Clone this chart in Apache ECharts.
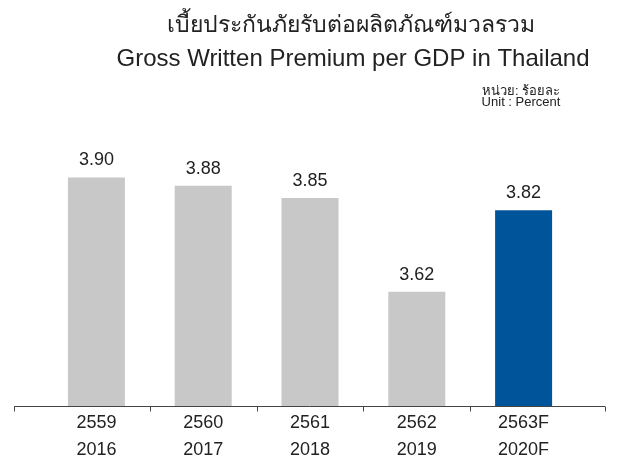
<!DOCTYPE html>
<html lang="th">
<head>
    <meta charset="UTF-8">
    <script src="https://cdn.jsdelivr.net/npm/echarts@6.0.0/dist/echarts.min.js"></script>
    <title>Gross Written Premium per GDP in Thailand</title>
    <style>
        html, body { margin: 0; padding: 0; background: #fff; }
    </style>
</head>
<body>
    <div id="chart" style="width: 619px;height:460px;"></div>
    <script>
        // data
        var thaiYears = ['2559', '2560', '2561', '2562', '2563F'];
        var years = ['2016', '2017', '2018', '2019', '2020F'];
        var premiumPerGdp = [3.90, 3.88, 3.85, 3.62, 3.82];

        var categories = [];
        for (var i = 0; i < years.length; i++) {
            categories.push(thaiYears[i] + '\n' + years[i]);
        }

        var font = '"Liberation Sans", Arial, "Noto Sans", sans-serif';
        var axisY = 406.5;

        var chart = echarts.init(document.getElementById('chart'));

        var option = {
            animation: false,
            grid: {
                left: 43,
                right: 42,
                top: 100,
                bottom: 54,
                outerBoundsMode: 'none'
            },
            xAxis: {
                type: 'category',
                data: categories,
                axisLine: { show: false },
                axisTick: { show: false },
                axisLabel: {
                    margin: 4,
                    fontSize: 18,
                    lineHeight: 27,
                    color: '#222',
                    fontFamily: font
                }
            },
            yAxis: {
                type: 'value',
                min: 3.34,
                max: 4.09,
                show: false,
                splitLine: { show: false }
            },
            series: [
                {
                    type: 'bar',
                    data: premiumPerGdp,
                    barWidth: 57,
                    itemStyle: {
                        color: function (p) {
                            // 预测年份用蓝色
                            return /F$/.test(years[p.dataIndex]) ? '#005499' : '#c8c8c8';
                        }
                    },
                    label: {
                        show: true,
                        position: 'top',
                        distance: 8,
                        fontSize: 18,
                        color: '#222',
                        fontFamily: font,
                        formatter: function (p) {
                            return p.value.toFixed(2);
                        }
                    }
                }
            ]
        };

        chart.setOption(option);

        // axis line with ticks between the categories, drawn wider than the grid
        var centers = [];
        for (var i = 0; i < categories.length; i++) {
            centers.push(chart.convertToPixel({ xAxisIndex: 0 }, i));
        }
        var tickXs = [14];
        for (var i = 0; i < centers.length - 1; i++) {
            tickXs.push((centers[i] + centers[i + 1]) / 2);
        }
        tickXs.push(605);

        var graphics = [
            {
                type: 'line',
                shape: { x1: 14, y1: axisY, x2: 605, y2: axisY },
                style: { stroke: '#444', lineWidth: 1 }
            }
        ];
        for (var i = 0; i < tickXs.length; i++) {
            var x = Math.round(tickXs[i]) + 0.5;
            graphics.push({
                type: 'line',
                shape: { x1: x, y1: axisY, x2: x, y2: axisY + 5 },
                style: { stroke: '#444', lineWidth: 1 }
            });
        }

        // titles
        graphics.push({
            type: 'text', x: 351, y: 26,
            style: {
                text: 'เบี้ยประกันภัยรับต่อผลิตภัณฑ์มวลรวม',
                font: '23px ' + font, fill: '#222',
                textAlign: 'center', textVerticalAlign: 'middle'
            }
        });
        graphics.push({
            type: 'text', x: 353, y: 59,
            style: {
                text: 'Gross Written Premium per GDP in Thailand',
                font: '24px ' + font, fill: '#222',
                textAlign: 'center', textVerticalAlign: 'middle'
            }
        });
        graphics.push({
            type: 'text', x: 521, y: 91,
            style: {
                text: 'หน่วย: ร้อยละ',
                font: '13px ' + font, fill: '#222',
                textAlign: 'center', textVerticalAlign: 'middle'
            }
        });
        graphics.push({
            type: 'text', x: 521, y: 102,
            style: {
                text: 'Unit : Percent',
                font: '13px ' + font, fill: '#222',
                textAlign: 'center', textVerticalAlign: 'middle'
            }
        });

        chart.setOption({ graphic: graphics });
    </script>
</body>
</html>
